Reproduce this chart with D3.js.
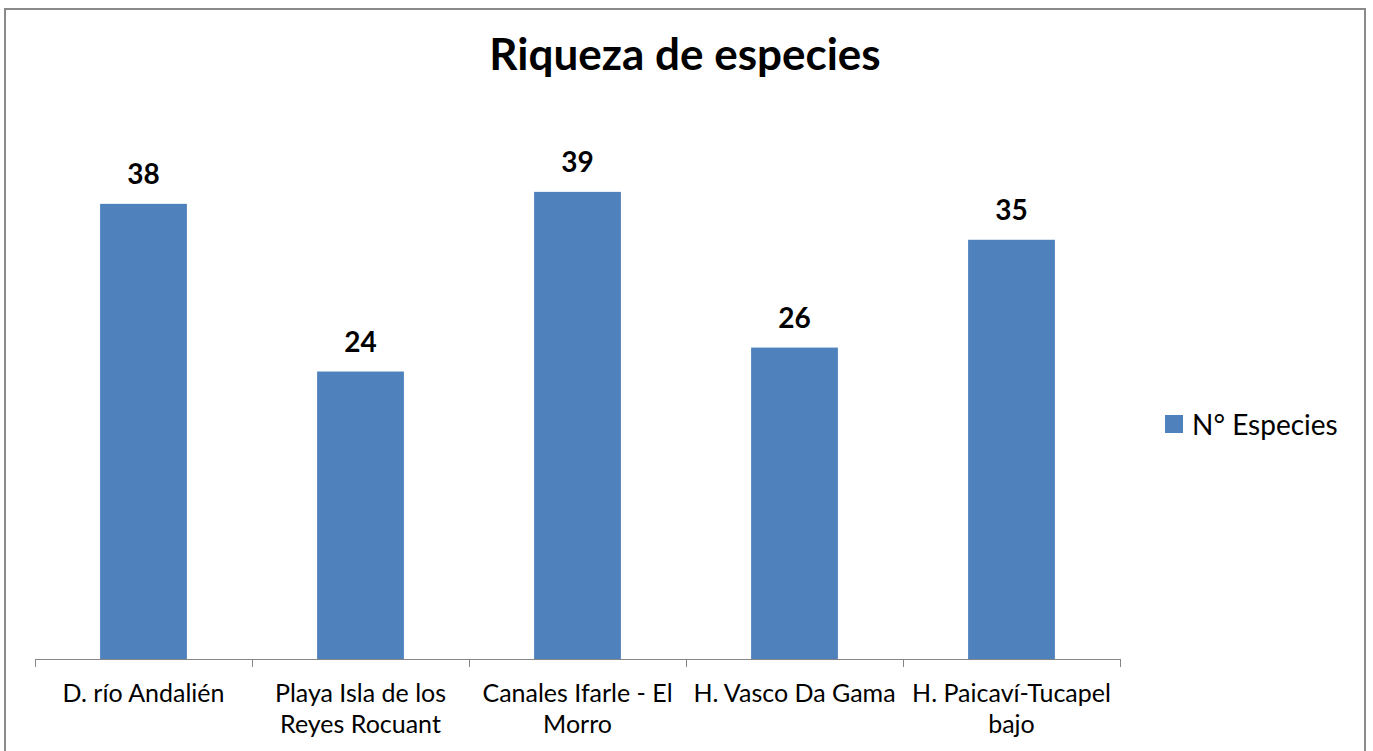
<!DOCTYPE html>
<html>
<head>
<meta charset="utf-8">
<script src="https://cdn.jsdelivr.net/npm/d3@7"></script>
<style>
  body { margin: 0; background: #fff; }
  svg { display: block; font-family: Lato, "Open Sans", sans-serif; }
</style>
</head>
<body>
<svg id="chart"></svg>
<script>
let categories = ['D. río Andalién', 'Playa Isla de los Reyes Rocuant', 'Canales Ifarle - El Morro', 'H. Vasco Da Gama', 'H. Paicaví-Tucapel bajo']
let values = [38, 24, 39, 26, 35]
let seriesName = 'N° Especies'
let title = 'Riqueza de especies'

let width = 1373
let height = 751
let barColor = '#4F81BD'
let axisColor = '#868686'

let svg = d3.select('#chart')
    .attr('width', width)
    .attr('height', height)

// outer frame of the chart
svg.append('rect')
    .attr('x', 5)
    .attr('y', 9)
    .attr('width', 1360)
    .attr('height', 800)
    .attr('fill', 'none')
    .attr('stroke', '#8a8a8a')
    .attr('stroke-width', 2)

// title
svg.append('text')
    .attr('x', 685)
    .attr('y', 70)
    .attr('text-anchor', 'middle')
    .style('font-size', '44px')
    .style('font-weight', 'bold')
    .text(title)

let xScale = d3.scaleBand()
    .domain(categories)
    .range([35, 1120])
    .paddingInner(0.6)
    .paddingOuter(0.3)

let yScale = d3.scaleLinear()
    .domain([0, 45])
    .range([659, 120])

// bars
svg.selectAll('.bar')
    .data(values)
    .enter()
    .append('rect')
    .attr('class', 'bar')
    .attr('x', (d, i) => xScale(categories[i]))
    .attr('y', (d) => yScale(d))
    .attr('width', xScale.bandwidth())
    .attr('height', (d) => yScale(0) - yScale(d))
    .attr('fill', barColor)

// value labels above the bars
svg.selectAll('.value')
    .data(values)
    .enter()
    .append('text')
    .attr('class', 'value')
    .attr('x', (d, i) => xScale(categories[i]) + xScale.bandwidth() / 2)
    .attr('y', (d) => yScale(d) - 20)
    .attr('text-anchor', 'middle')
    .style('font-size', '28px')
    .style('font-weight', 'bold')
    .text((d) => d)

// x axis: line with ticks at the category boundaries
let step = xScale.step()
let xStart = xScale.range()[0]
let axisG = svg.append('g').attr('class', 'x-axis')
axisG.append('line')
    .attr('x1', xStart).attr('x2', xScale.range()[1])
    .attr('y1', yScale(0) + 0.5).attr('y2', yScale(0) + 0.5)
    .attr('stroke', axisColor)
axisG.selectAll('.tick')
    .data(d3.range(categories.length + 1))
    .enter()
    .append('line')
    .attr('class', 'tick')
    .attr('x1', (i) => Math.round(xStart + i * step) + 0.5)
    .attr('x2', (i) => Math.round(xStart + i * step) + 0.5)
    .attr('y1', yScale(0))
    .attr('y2', yScale(0) + 8)
    .attr('stroke', axisColor)

// category labels, wrapped to the band width
let labels = svg.selectAll('.cat')
    .data(categories)
    .enter()
    .append('text')
    .attr('class', 'cat')
    .attr('x', (d) => xScale(d) + xScale.bandwidth() / 2)
    .attr('y', 702)
    .attr('text-anchor', 'middle')
    .style('font-size', '25px')

labels.each(function (d) {
    let el = d3.select(this)
    let words = d.split(' ')
    let lines = []
    let line = []
    let probe = el.append('tspan')
    words.forEach((w) => {
        probe.text(line.concat(w).join(' '))
        if (probe.node().getComputedTextLength() > step - 8 && line.length) {
            lines.push(line.join(' '))
            line = [w]
        } else {
            line.push(w)
        }
    })
    lines.push(line.join(' '))
    probe.remove()
    lines.forEach((l, i) => {
        el.append('tspan')
            .attr('x', el.attr('x'))
            .attr('dy', i === 0 ? 0 : 31)
            .text(l)
    })
})

// legend
svg.append('rect')
    .attr('x', 1165)
    .attr('y', 415)
    .attr('width', 18)
    .attr('height', 18)
    .attr('fill', barColor)
svg.append('text')
    .attr('x', 1192)
    .attr('y', 435)
    .style('font-size', '28px')
    .text(seriesName)
</script>
</body>
</html>
